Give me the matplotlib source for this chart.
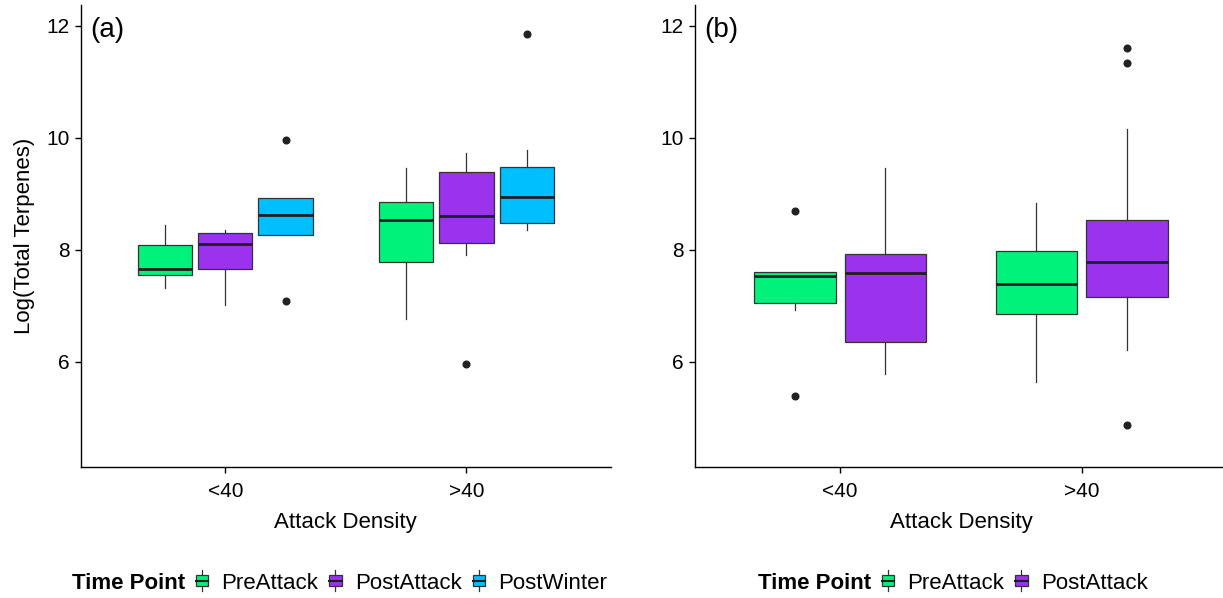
import matplotlib
matplotlib.use("Agg")
import matplotlib.pyplot as plt
from matplotlib.legend_handler import HandlerBase
from matplotlib.patches import Rectangle, Patch
from matplotlib.lines import Line2D

plt.rcParams['font.family'] = ['Liberation Sans', 'DejaVu Sans']

# x categories
groups = ["<40", ">40"]

# panel (a): one list per time point, one value per attack-density group
a_series = ["PreAttack", "PostAttack", "PostWinter"]
a_median = [[7.66, 8.54], [8.11, 8.60], [8.62, 8.95]]
a_q1 = [[7.56, 7.78], [7.66, 8.13], [8.27, 8.48]]
a_q3 = [[8.08, 8.85], [8.30, 9.39], [8.92, 9.48]]
a_whislo = [[7.32, 6.77], [7.02, 7.91], [8.27, 8.35]]
a_whishi = [[8.44, 9.46], [8.35, 9.74], [8.92, 9.79]]
a_fliers = [[[], []], [[], [5.97]], [[9.96, 7.09], [11.85]]]

# panel (b)
b_series = ["PreAttack", "PostAttack"]
b_median = [[7.53, 7.40], [7.59, 7.79]]
b_q1 = [[7.05, 6.86], [6.36, 7.16]]
b_q3 = [[7.61, 7.98], [7.93, 8.53]]
b_whislo = [[6.92, 5.65], [5.78, 6.21]]
b_whishi = [[7.61, 8.84], [9.46, 10.16]]
b_fliers = [[[8.70, 5.40], []], [[], [11.61, 11.34, 4.88]]]

colours = {"PreAttack": "#00F27A", "PostAttack": "#9B32EE", "PostWinter": "#00BFFF"}
edge = "#333333"


class BoxKey(HandlerBase):
    # little boxplot glyph like ggplot's legend key
    def create_artists(self, legend, orig, xd, yd, w, h, fontsize, trans):
        x0, y0 = -xd, -yd
        cx = x0 + w / 2
        whisk = Line2D([cx, cx], [y0 - 0.25 * h, y0 + 1.25 * h], color=edge, lw=0.9, transform=trans)
        box = Rectangle((x0, y0 + 0.1 * h), w, 0.8 * h, facecolor=orig.get_facecolor(),
                        edgecolor=edge, lw=0.9, transform=trans)
        med = Line2D([x0, x0 + w], [y0 + 0.5 * h] * 2, color="#1f1f1f", lw=1.5, transform=trans)
        return [whisk, box, med]


class NoKey(HandlerBase):
    def create_artists(self, legend, orig, xd, yd, w, h, fontsize, trans):
        blank = Rectangle((-xd, -yd), w, h, facecolor="none", edgecolor="none", transform=trans)
        return [blank]


def draw_panel(ax, series, med, q1, q3, lo, hi, fl, tag):
    n = len(series)
    slot = 0.75 / n
    for i, s in enumerate(series):
        off = (i - (n - 1) / 2) * slot
        for g in range(len(groups)):
            st = [dict(med=med[i][g], q1=q1[i][g], q3=q3[i][g],
                       whislo=lo[i][g], whishi=hi[i][g], fliers=fl[i][g])]
            ax.bxp(st, positions=[g + 1 + off], widths=0.9 * slot, patch_artist=True,
                   showcaps=False,
                   boxprops=dict(facecolor=colours[s], edgecolor=edge, linewidth=0.9),
                   medianprops=dict(color="#1f1f1f", linewidth=2.0),
                   whiskerprops=dict(color=edge, linewidth=0.9),
                   flierprops=dict(marker="o", markerfacecolor="#222222",
                                   markeredgecolor="#222222", markersize=4.8))
    ax.set_xlim(0.4, 2.6)
    ax.set_ylim(4.125, 12.375)
    ax.set_xticks([1, 2])
    ax.set_xticklabels(groups)
    ax.set_yticks([6, 8, 10, 12])
    for sp in ["top", "right"]:
        ax.spines[sp].set_visible(False)
    for sp in ["left", "bottom"]:
        ax.spines[sp].set_linewidth(1.0)
        ax.spines[sp].set_color("black")
    ax.tick_params(axis="both", length=4, width=1.0, pad=4, labelsize=15, colors="black")
    ax.tick_params(axis="x", pad=7)
    ax.set_xlabel("Attack Density", fontsize=16, labelpad=8)
    ax.text(0.44, 11.93, tag, fontsize=20, ha="left", va="center")


fig = plt.figure(figsize=(12.23, 5.98), dpi=100)
ax_a = fig.add_axes([0.066, 0.2191, 0.4336, 0.7726])
ax_b = fig.add_axes([0.5683, 0.2191, 0.4348, 0.7726])

draw_panel(ax_a, a_series, a_median, a_q1, a_q3, a_whislo, a_whishi, a_fliers, "(a)")
draw_panel(ax_b, b_series, b_median, b_q1, b_q3, b_whislo, b_whishi, b_fliers, "(b)")
ax_a.set_ylabel("Log(Total Terpenes)", fontsize=16, labelpad=8)


def add_legend(series, x):
    handles = [Patch(facecolor="none", edgecolor="none")] + [Patch(facecolor=colours[s]) for s in series]
    labels = ["Time Point"] + series
    hmap = {handles[0]: NoKey()}
    for h in handles[1:]:
        hmap[h] = BoxKey()
    leg = fig.legend(handles, labels, loc="center left", bbox_to_anchor=(x, 0.025),
                     ncol=len(labels), frameon=False, fontsize=16, handlelength=0.55,
                     handleheight=0.6, handletextpad=0.6, columnspacing=0.5,
                     borderpad=0, borderaxespad=0, handler_map=hmap)
    leg.get_texts()[0].set_fontweight("bold")


add_legend(a_series, 0.0376)
add_legend(b_series, 0.5985)

fig.savefig("out.png", dpi=100)
